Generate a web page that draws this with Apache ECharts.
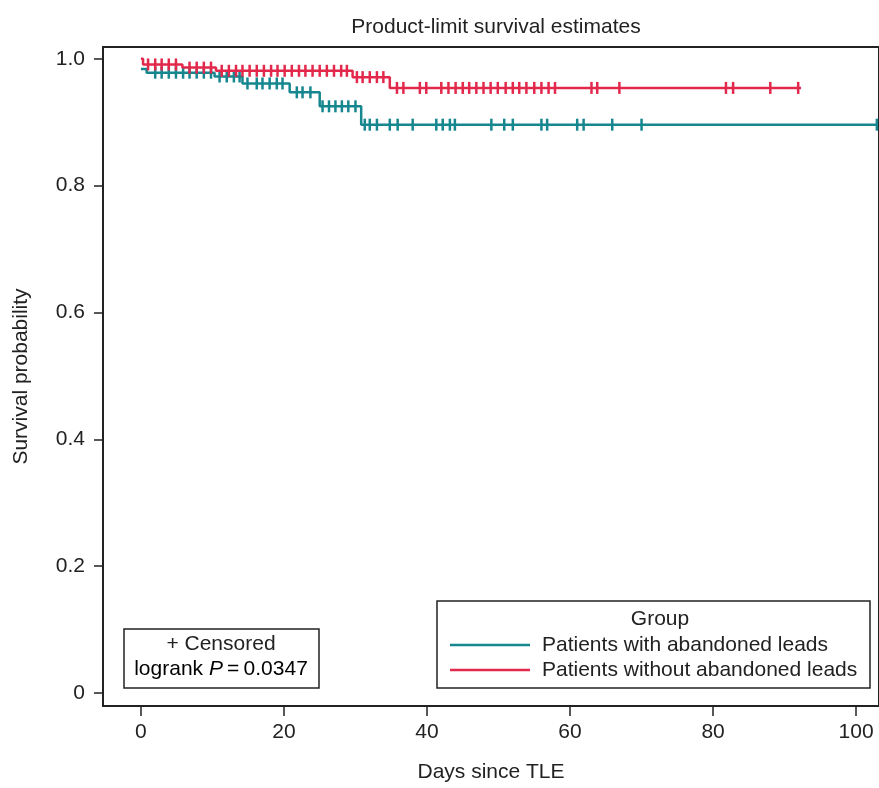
<!DOCTYPE html>
<html>
<head>
<meta charset="utf-8">
<script src="https://cdn.jsdelivr.net/npm/echarts@6/dist/echarts.min.js"></script>
<style>
html,body{margin:0;padding:0;background:#fff;}
#chart{width:879px;height:788px;}
</style>
</head>
<body>
<div id="chart"></div>
<script>
// ---- Data ----
const xTicks = [0, 20, 40, 60, 80, 100];
const yTicks = [0, 0.2, 0.4, 0.6, 0.8, 1.0];

// Patients with abandoned leads: step times and survival
const tealTimes = [0, 0.8, 10.3, 14.2, 20.8, 25.0, 30.8, 102.9];
const tealSurv  = [0.984, 0.978, 0.972, 0.961, 0.947, 0.925, 0.896, 0.896];
const tealCensor = [2.0, 2.9, 3.9, 4.9, 5.9, 6.8, 7.8, 8.8, 9.8,
  11.0, 12.0, 13.0, 13.8,
  14.9, 16.2, 17.0, 18.0, 19.0, 19.8,
  21.8, 22.6, 23.7,
  25.4, 26.3, 27.2, 28.1, 29.0, 30.0,
  31.3, 32.0, 33.0, 34.8, 35.9, 38.0, 41.3, 42.2, 43.2, 43.9,
  49.0, 50.8, 52.0, 56.0, 56.8, 61.0, 61.9, 65.9, 70.0, 102.9];

// Patients without abandoned leads
const redTimes = [0, 0.3, 5.8, 10.5, 29.6, 34.8, 92.3];
const redSurv  = [1.0, 0.991, 0.986, 0.981, 0.971, 0.954, 0.954];
const redCensor = [1.0, 2.0, 2.9, 3.9, 4.9,
  6.8, 7.8, 8.8, 9.8,
  11.3, 12.3, 13.3, 14.2, 15.2, 16.2, 17.2, 18.2, 19.1, 20.1, 21.1, 22.1, 23.0, 24.0, 25.0, 26.0, 27.0, 28.0, 28.8,
  30.2, 31.0, 32.0, 33.0, 33.9,
  35.8, 36.7, 39.0, 39.9, 42.0, 43.0, 44.0, 45.0, 45.9, 46.9, 47.9, 48.9, 49.9, 51.0, 52.0, 52.9, 53.9, 55.0, 56.0, 57.0, 57.9,
  63.0, 63.8, 66.9, 81.8, 82.8, 88.0, 91.9];

const TEAL = '#16868f';
const RED = '#e2294b';
const FONT = '"Liberation Sans", Arial, sans-serif';
const FS = 21;

function survAt(times, surv, t) {
  let s = surv[0];
  for (let i = 0; i < times.length; i++) { if (times[i] <= t) s = surv[i]; }
  return s;
}
const tealLine = tealTimes.map((t, i) => [t, tealSurv[i]]);
const redLine = redTimes.map((t, i) => [t, redSurv[i]]);
const tealCens = tealCensor.map(t => [t, survAt(tealTimes, tealSurv, t)]);
const redCens = redCensor.map(t => [t, survAt(redTimes, redSurv, t)]);

const chart = echarts.init(document.getElementById('chart'), null, {renderer: 'canvas'});
chart.setOption({
  backgroundColor: '#fff',
  animation: false,
  title: {
    text: 'Product-limit survival estimates',
    left: 491, top: 12, textAlign: 'center',
    textStyle: {fontFamily: FONT, fontSize: FS, fontWeight: 'normal', color: '#222'}
  },
  grid: {left: 103, top: 47, right: 0, bottom: 80, show: true, borderColor: '#222', borderWidth: 2, backgroundColor: 'transparent'},
  xAxis: {
    type: 'value', min: -5.3, max: 103.2,
    name: 'Days since TLE', nameLocation: 'middle', nameGap: 56,
    nameTextStyle: {fontFamily: FONT, fontSize: FS, color: '#222'},
    axisLine: {show: true, onZero: false, lineStyle: {color: '#222', width: 2}},
    axisTick: {show: true, length: 10, customValues: xTicks, lineStyle: {color: '#222', width: 1.5}},
    axisLabel: {customValues: xTicks, margin: 16, fontFamily: FONT, fontSize: FS, color: '#222'},
    splitLine: {show: false}
  },
  yAxis: {
    type: 'value', min: -0.0205, max: 1.0185,
    name: 'Survival probability', nameLocation: 'middle', nameGap: 71, nameRotate: 90,
    nameTextStyle: {fontFamily: FONT, fontSize: FS, color: '#222'},
    axisLine: {show: true, onZero: false, lineStyle: {color: '#222', width: 2}},
    axisTick: {show: true, length: 9, customValues: yTicks, lineStyle: {color: '#222', width: 1.5}},
    axisLabel: {customValues: yTicks, margin: 18, fontFamily: FONT, fontSize: FS, color: '#222',
      formatter: v => (v === 0 ? '0' : v.toFixed(1))},
    splitLine: {show: false}
  },
  series: [
    {name: 'Patients with abandoned leads', type: 'line', step: 'end', data: tealLine,
      showSymbol: false, lineStyle: {color: TEAL, width: 2.5}, itemStyle: {color: TEAL}, z: 3},
    {name: 'Patients without abandoned leads', type: 'line', step: 'end', data: redLine,
      showSymbol: false, lineStyle: {color: RED, width: 2.5}, itemStyle: {color: RED}, z: 4},
    {name: 'teal censored', type: 'scatter', data: tealCens, symbol: 'rect', symbolSize: [2.5, 12],
      itemStyle: {color: TEAL, opacity: 1}, z: 3},
    {name: 'red censored', type: 'scatter', data: redCens, symbol: 'rect', symbolSize: [2.5, 12],
      itemStyle: {color: RED, opacity: 1}, z: 4}
  ],
  graphic: [
    {type: 'rect', shape: {x: 124, y: 629, width: 195, height: 59}, style: {fill: '#fff', stroke: '#222', lineWidth: 1.5}, z: 10},
    {type: 'text', x: 221, y: 644, style: {text: '+ Censored', font: FS + 'px ' + FONT, fill: '#222', textAlign: 'center', textVerticalAlign: 'middle'}, z: 11},
    {type: 'text', x: 221, y: 669, style: {
      text: '{a|logrank }{i|P}{a|\u2009=\u20090.0347}',
      textAlign: 'center', textVerticalAlign: 'middle',
      rich: {a: {fontFamily: FONT, fontSize: FS, color: '#222'},
             i: {fontFamily: FONT, fontSize: FS, fontStyle: 'italic', color: '#222'}}
    }, z: 11},
    {type: 'rect', shape: {x: 437, y: 601, width: 433, height: 87}, style: {fill: '#fff', stroke: '#222', lineWidth: 1.5}, z: 10},
    {type: 'text', x: 660, y: 619, style: {text: 'Group', font: FS + 'px ' + FONT, fill: '#222', textAlign: 'center', textVerticalAlign: 'middle'}, z: 11},
    {type: 'line', shape: {x1: 450, y1: 645, x2: 530, y2: 645}, style: {stroke: TEAL, lineWidth: 2.5}, z: 11},
    {type: 'text', x: 542, y: 645, style: {text: 'Patients with abandoned leads', font: FS + 'px ' + FONT, fill: '#222', textAlign: 'left', textVerticalAlign: 'middle'}, z: 11},
    {type: 'line', shape: {x1: 450, y1: 670, x2: 530, y2: 670}, style: {stroke: RED, lineWidth: 2.5}, z: 11},
    {type: 'text', x: 542, y: 670, style: {text: 'Patients without abandoned leads', font: FS + 'px ' + FONT, fill: '#222', textAlign: 'left', textVerticalAlign: 'middle'}, z: 11}
  ]
});
</script>
</body>
</html>
